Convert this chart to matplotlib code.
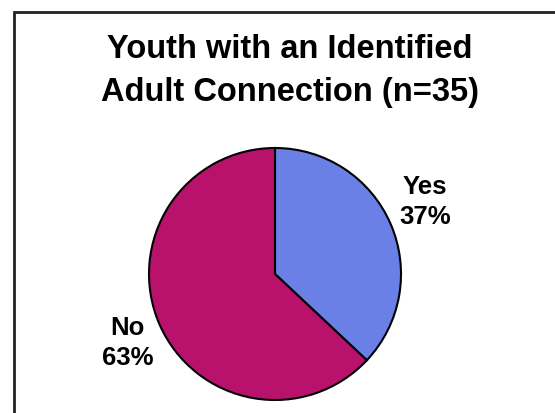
import matplotlib
matplotlib.use("Agg")
import matplotlib.pyplot as plt
from matplotlib.patches import Rectangle

# data
labels = ["Yes", "No"]
percents = [37, 63]
colors = ["#6b80e6", "#b8126c"]
title = "Youth with an Identified\nAdult Connection (n=35)"

W, H = 555, 413
fig = plt.figure(figsize=(W / 100, H / 100), dpi=100)
fig.patch.set_facecolor("white")
plt.rcParams["font.family"] = ["Liberation Sans", "DejaVu Sans"]

# outer frame (runs off the right and bottom of the scan)
frame = Rectangle((14 / W, -0.1), 1.2, (H - 12) / H + 0.1, transform=fig.transFigure,
                  fill=False, edgecolor="#222222", linewidth=2.0)
fig.patches.append(frame)

# pie axes: centre (275, 274) px, radius 126 px, limits +-1.2
cx, cy, r = 275, 274, 126
lim = 1.2
ax = fig.add_axes([(cx - r * lim) / W, (H - cy - r * lim) / H, 2 * r * lim / W, 2 * r * lim / H])
ax.pie(percents, colors=colors, startangle=90, counterclock=False,
       wedgeprops=dict(edgecolor="black", linewidth=1.5))
ax.set_xlim(-lim, lim)
ax.set_ylim(-lim, lim)
ax.set_aspect("equal")
ax.axis("off")

# slice labels
label_pos = [(1.19, 0.57), (-1.17, -0.55)]
for lab, pct, (x, y) in zip(labels, percents, label_pos):
    ax.text(x, y, f"{lab}\n{pct}%", ha="center", va="center", fontsize=18.5,
            fontweight="bold", linespacing=1.32)

fig.text(290 / W, 1 - 71 / H, title, ha="center", va="center",
         fontsize=23.5, fontweight="bold", linespacing=1.48)

fig.savefig("out.png", dpi=100)
